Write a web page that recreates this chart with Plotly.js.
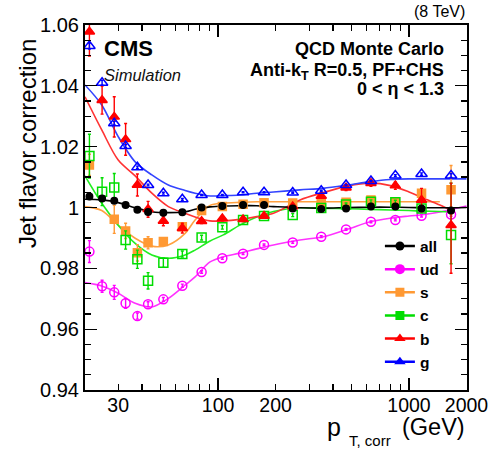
<!DOCTYPE html>
<html>
<head>
<meta charset="utf-8">
<script src="https://cdn.plot.ly/plotly-3.0.1.min.js"></script>
<style>html,body{margin:0;padding:0;background:#fff;}#chart{width:490px;height:451px;}</style>
</head>
<body>
<div id="chart"></div>
<script>
// ---- data ----
const seriesNames = ['all', 'ud', 's', 'c', 'b', 'g'];
const ptX = [21.2, 24.7, 28.6, 32.8, 37.8, 43.0, 51.7, 65.0, 82.0, 105.3, 135.2, 174.1, 246, 347, 468, 632, 848, 1163, 1660];

const allY   = [1.0036, 1.0030, 1.0022, 1.0008, 0.9993, 0.9985, 0.9983, 0.9984, 1.0000, 1.0005, 1.0008, 1.0008, 0.9997, 0.9995, 0.9997, 1.0003, 1.0003, 0.9997, 0.9990];
const allErr = [0.0006, 0.0005, 0.0004, 0.0004, 0.0003, 0.0003, 0.0003, 0.0003, 0.0002, 0.0002, 0.0002, 0.0002, 0.0002, 0.0002, 0.0002, 0.0002, 0.0003, 0.0004, 0.0008];

const udY   = [0.9855, 0.9741, 0.9721, 0.9685, 0.9643, 0.9682, 0.9698, 0.9743, 0.9788, 0.9833, 0.9848, 0.9877, 0.9885, 0.9904, 0.9928, 0.9953, 0.9959, 0.9973, 0.9977];
const udErr = [0.0036, 0.0020, 0.0023, 0.0016, 0.0010, 0.0008, 0.0006, 0.0005, 0.0004, 0.0003, 0.0003, 0.0003, 0.0003, 0.0003, 0.0003, 0.0003, 0.0003, 0.0004, 0.0006];

const sY   = [1.0140, null, 0.9961, 0.9923, 0.9851, 0.9884, 0.9888, 0.9937, 0.9990, 1.0003, 1.0011, 1.0016, 1.0015, 1.0014, 1.0017, 1.0025, 1.0019, 1.0047, 1.0058];
const sErr = [0.0035, 0, 0.0046, 0.0025, 0.0027, 0.0020, 0.0012, 0.0008, 0.0006, 0.0005, 0.0005, 0.0005, 0.0005, 0.0006, 0.0006, 0.0007, 0.0008, 0.0012, 0.0080];

const cY     = [1.0169, 1.0052, 1.0066, 0.9893, 0.9830, 0.9759, 0.9818, 0.9847, 0.9901, 0.9935, 0.9959, 0.9972, 0.9975, 0.9998, 1.0010, 1.0019, 1.0017, 0.9997, 0.9910];
const cErrUp = [0.0072, 0.0046, 0.0046, 0.0030, 0.0030, 0.0027, 0.0015, 0.0010, 0.0008, 0.0006, 0.0005, 0.0005, 0.0005, 0.0005, 0.0005, 0.0006, 0.0007, 0.0010, 0.0170];
const cErrDn = [0.0072, 0.0046, 0.0046, 0.0030, 0.0030, 0.0027, 0.0015, 0.0010, 0.0008, 0.0006, 0.0005, 0.0005, 0.0005, 0.0005, 0.0005, 0.0006, 0.0007, 0.0010, 0.0095];

const bY     = [1.0578, 1.0353, 1.0298, 1.0224, 1.0074, 0.9994, 0.9956, 0.9932, 0.9955, 0.9964, 0.9961, 0.9972, 1.0003, 1.0038, 1.0065, 1.0080, 1.0072, 1.0025, 0.9942];
const bErrUp = [0.0040, 0.0046, 0.0066, 0.0052, 0.0036, 0.0026, 0.0016, 0.0016, 0.0008, 0.0008, 0.0007, 0.0007, 0.0007, 0.0008, 0.0009, 0.0010, 0.0012, 0.0038, 0.0138];
const bErrDn = [0.0080, 0.0046, 0.0066, 0.0052, 0.0036, 0.0026, 0.0016, 0.0016, 0.0008, 0.0008, 0.0007, 0.0007, 0.0007, 0.0008, 0.0009, 0.0010, 0.0012, 0.0038, 0.0158];

const gY   = [1.0531, 1.0410, 1.0277, 1.0202, 1.0132, 1.0074, 1.0047, 1.0027, 1.0041, 1.0041, 1.0050, 1.0050, 1.0049, 1.0055, 1.0074, 1.0087, 1.0105, 1.0110, 1.0105];
const gErr = [0.0010, 0.0008, 0.0006, 0.0005, 0.0004, 0.0003, 0.0003, 0.0003, 0.0002, 0.0002, 0.0002, 0.0002, 0.0002, 0.0002, 0.0002, 0.0002, 0.0003, 0.0004, 0.0006];

// fitted curves at these pT values
const fitX   = [20.1, 24.6, 30, 36.8, 45, 54.9, 67.2, 75.8, 90.8, 106.6, 130, 159.4, 195, 268.6, 355.6, 480, 625, 800, 1000, 1200, 1450, 1700, 2000];
const allFit = [1.0027, 1.0025, 1.0016, 0.9999, 0.9986, 0.9983, 0.9986, 0.9994, 1.0002, 1.0005, 1.0006, 1.0006, 1.0003, 0.9999, 0.9998, 1.0000, 1.0001, 1.0001, 1.0000, 0.9999, 0.9999, 0.9999, 1.0000];
const udFit  = [0.9753, 0.9742, 0.9718, 0.9685, 0.9673, 0.9701, 0.9745, 0.9772, 0.9821, 0.9838, 0.9850, 0.9864, 0.9877, 0.9893, 0.9904, 0.9929, 0.9953, 0.9965, 0.9972, 0.9977, 0.9985, 0.9995, 1.0005];
const sFit   = [1.0003, 0.9990, 0.9942, 0.9899, 0.9873, 0.9877, 0.9915, 0.9959, 1.0007, 1.0014, 1.0017, 1.0019, 1.0019, 1.0019, 1.0019, 1.0019, 1.0019, 1.0019, 1.0019, 1.0019, 1.0019, null, null];
const cFit   = [1.0104, 1.0014, 0.9942, 0.9882, 0.9844, 0.9833, 0.9844, 0.9860, 0.9890, 0.9910, 0.9942, 0.9969, 0.9987, 0.9999, 0.9997, 0.9996, 0.9994, 0.9992, 0.9990, 0.9988, 0.9987, 0.9985, null];
const bFit   = [1.0364, 1.0255, 1.0156, 1.0104, 1.0047, 1.0003, 0.9981, 0.9969, 0.9956, 0.9956, 0.9961, 0.9970, 0.9981, 1.0025, 1.0049, 1.0071, 1.0080, 1.0072, 1.0051, 1.0030, 1.0008, 0.9988, null];
const gFit   = [1.0403, 1.0337, 1.0233, 1.0150, 1.0107, 1.0074, 1.0056, 1.0047, 1.0038, 1.0039, 1.0041, 1.0047, 1.0051, 1.0058, 1.0063, 1.0074, 1.0085, 1.0092, 1.0094, 1.0094, 1.0094, 1.0094, 1.0094];

const xTickVals = [30, 100, 200, 1000, 2000];
const xTickText = ['30', '100', '200', '1000', '2000'];
const xMinorVals = [40, 50, 60, 70, 80, 90, 300, 400, 500, 600, 700, 800, 900];
const xLongTicks = [100, 1000];
const yTickVals = [0.94, 0.96, 0.98, 1.0, 1.02, 1.04, 1.06];
const yTickText = ['0.94', '0.96', '0.98', '1', '1.02', '1.04', '1.06'];

// ---- styles ----
const FONT = 'Liberation Sans, Arial, Helvetica, sans-serif';
const col = {all: '#000000', ud: '#ff00ff', s: '#ff9933', c: '#00dd00', b: '#ff0000', g: '#0000ff'};
const fitCol = {all: '#000000', ud: '#ff33ff', s: '#ffa040', c: '#22ee22', b: '#ff3333', g: '#3344ff'};

function fitTrace(y, key) {
  return {x: fitX, y: y, type: 'scatter', mode: 'lines', showlegend: false, hoverinfo: 'skip',
          line: {color: fitCol[key], width: 1.6, shape: 'spline', smoothing: 0.9}, connectgaps: false};
}
function ptTrace(y, key, symbol, size, up, dn) {
  const err = {type: 'data', array: up, color: col[key], thickness: 1.4, width: 1.5, visible: true};
  if (dn) { err.symmetric = false; err.arrayminus = dn; }
  return {x: ptX, y: y, type: 'scatter', mode: 'markers', showlegend: false, hoverinfo: 'skip',
          marker: {symbol: symbol, size: size, color: col[key], line: {color: col[key], width: 1.5}},
          error_y: err};
}
function legTrace(key, symbol, size) {
  return {x: [null], y: [null], type: 'scatter', mode: 'lines+markers', name: key,
          marker: {symbol: symbol, size: size, color: col[key]}, line: {color: col[key], width: 2.5}};
}

const data = [
  fitTrace(udFit, 'ud'), fitTrace(sFit, 's'), fitTrace(cFit, 'c'),
  fitTrace(bFit, 'b'), fitTrace(gFit, 'g'), fitTrace(allFit, 'all'),
  ptTrace(udY, 'ud', 'circle-open', 9, udErr),
  ptTrace(sY, 's', 'square', 8, sErr),
  ptTrace(cY, 'c', 'square-open', 9, cErrUp, cErrDn),
  ptTrace(bY, 'b', 'triangle-up', 9, bErrUp, bErrDn),
  ptTrace(gY, 'g', 'triangle-up-open', 10, gErr),
  ptTrace(allY, 'all', 'circle', 6.5, allErr),
  legTrace('all', 'circle', 9), legTrace('ud', 'circle', 10), legTrace('s', 'square', 9),
  legTrace('c', 'square', 9), legTrace('b', 'triangle-up', 10), legTrace('g', 'triangle-up', 10),
  {x: [], y: [], xaxis: 'x2', type: 'scatter', showlegend: false}
];

const xr = [Math.log10(20.1), Math.log10(2012)];
const layout = {
  width: 490, height: 451,
  margin: {l: 85, r: 23, t: 25, b: 61},
  paper_bgcolor: '#fff', plot_bgcolor: '#fff',
  font: {family: FONT, color: '#000'},
  showlegend: true,
  legend: {x: 0.772, y: 0.44, xanchor: 'left', yanchor: 'top', bgcolor: 'rgba(0,0,0,0)',
           font: {family: FONT, size: 15.5, weight: 'bold', color: '#000'}, itemwidth: 30, tracegroupgap: 0},
  xaxis: {type: 'log', range: xr, tickmode: 'array', tickvals: xTickVals, ticktext: xTickText,
          ticks: 'inside', ticklen: 6, tickwidth: 1.3, tickcolor: '#000', ticklabelstandoff: -3,
          minor: {tickmode: 'array', tickvals: xMinorVals, ticks: 'inside', ticklen: 6, tickwidth: 1.3, tickcolor: '#000'},
          showline: true, linecolor: '#000', linewidth: 2, mirror: 'ticks',
          showgrid: false, zeroline: false, tickfont: {family: FONT, size: 19.5, color: '#000'}},
  xaxis2: {type: 'log', range: xr, overlaying: 'x', anchor: 'y', side: 'bottom', tickmode: 'array', tickvals: xLongTicks,
           ticks: 'inside', ticklen: 12, tickwidth: 1.3, tickcolor: '#000', showticklabels: false,
           showline: false, mirror: 'ticks', showgrid: false, zeroline: false},
  yaxis: {range: [0.94, 1.06], tickmode: 'array', tickvals: yTickVals, ticktext: yTickText,
          ticks: 'inside', ticklen: 12, tickwidth: 1.3, tickcolor: '#000',
          minor: {dtick: 0.005, tick0: 0.94, ticks: 'inside', ticklen: 6, tickwidth: 1.3, tickcolor: '#000'},
          showline: true, linecolor: '#000', linewidth: 2, mirror: 'ticks',
          showgrid: false, zeroline: false, tickfont: {family: FONT, size: 20, color: '#000'}},
  annotations: [
    {xref: 'paper', yref: 'paper', x: -0.1505, y: 0.967, xanchor: 'center', yanchor: 'top', textangle: -90,
     text: 'Jet flavor correction', showarrow: false, font: {family: FONT, size: 24, color: '#000'}},
    {xref: 'paper', yref: 'paper', x: 0.6283, y: -0.1, xanchor: 'left', yanchor: 'middle',
     text: 'p', showarrow: false, font: {family: FONT, size: 25, color: '#000'}},
    {xref: 'paper', yref: 'paper', x: 0.6859, y: -0.139, xanchor: 'left', yanchor: 'middle',
     text: 'T, corr', showarrow: false, font: {family: FONT, size: 15, color: '#000'}},
    {xref: 'paper', yref: 'paper', x: 1.0, y: -0.102, xanchor: 'right', yanchor: 'middle',
     text: '(GeV)', showarrow: false, font: {family: FONT, size: 23.5, color: '#000'}},
    {xref: 'paper', yref: 'paper', x: 1.0, y: 1.037, xanchor: 'right', yanchor: 'middle',
     text: '(8 TeV)', showarrow: false, font: {family: FONT, size: 16, color: '#000'}},
    {xref: 'paper', yref: 'paper', x: 0.045, y: 0.9356, xanchor: 'left', yanchor: 'middle',
     text: '<b>CMS</b>', showarrow: false, font: {family: FONT, size: 22, color: '#000'}},
    {xref: 'paper', yref: 'paper', x: 0.045, y: 0.863, xanchor: 'left', yanchor: 'middle',
     text: '<i>Simulation</i>', showarrow: false, font: {family: FONT, size: 16.5, color: '#111'}},
    {xref: 'paper', yref: 'paper', x: 0.945, y: 0.934, xanchor: 'right', yanchor: 'middle',
     text: '<b>QCD Monte Carlo</b>', showarrow: false, font: {family: FONT, size: 18, color: '#000'}},
    {xref: 'paper', yref: 'paper', x: 0.945, y: 0.872, xanchor: 'right', yanchor: 'middle',
     text: '<b>Anti-k<sub>T</sub> R=0.5, PF+CHS</b>', showarrow: false, font: {family: FONT, size: 18, color: '#000'}},
    {xref: 'paper', yref: 'paper', x: 0.945, y: 0.8247, xanchor: 'right', yanchor: 'middle',
     text: '<b>0 &lt; η &lt; 1.3</b>', showarrow: false, font: {family: FONT, size: 18, color: '#000'}}
  ]
};

Plotly.newPlot('chart', data, layout, {staticPlot: true, displayModeBar: false});
</script>
</body>
</html>
